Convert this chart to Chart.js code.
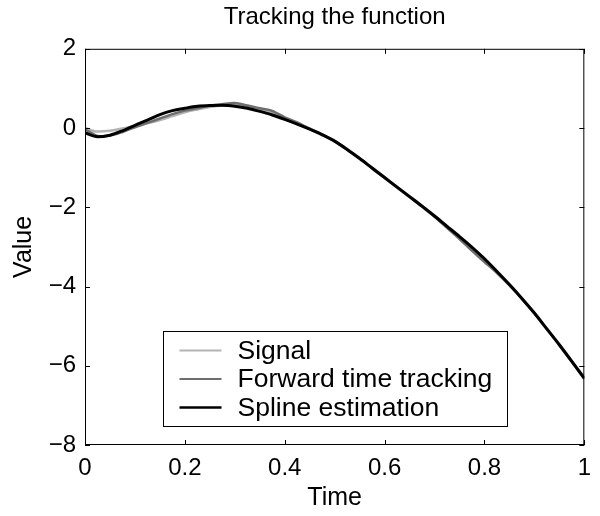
<!DOCTYPE html>
<html>
<head>
<meta charset="utf-8">
<title>Tracking the function</title>
<script src="https://cdn.jsdelivr.net/npm/chart.js@4.4.0/dist/chart.umd.min.js"></script>
<style>
  html, body { margin: 0; padding: 0; background: #fff; }
  #wrap { width: 600px; height: 516px; }
</style>
</head>
<body>
<div id="wrap"><canvas id="trackChart" width="600" height="516"></canvas></div>
<script>
// values
const timeValues = [0, 0.025, 0.05, 0.075, 0.1, 0.125, 0.15, 0.175, 0.2, 0.225,
    0.25, 0.275, 0.3, 0.325, 0.35, 0.375, 0.4, 0.425, 0.45, 0.475,
    0.5, 0.525, 0.55, 0.575, 0.6, 0.625, 0.65, 0.675, 0.7, 0.725,
    0.75, 0.775, 0.8, 0.825, 0.85, 0.875, 0.9, 0.925, 0.95, 0.975, 1];
const signalValues = [0.0, -0.09, -0.07, -0.01, 0.05, 0.12, 0.2, 0.3, 0.4, 0.47,
    0.53, 0.57, 0.58, 0.54, 0.46, 0.37, 0.25, 0.12, -0.01, -0.16,
    -0.33, -0.53, -0.76, -1.0, -1.24, -1.48, -1.72, -1.96, -2.21, -2.47,
    -2.73, -3.0, -3.29, -3.62, -3.95, -4.3, -4.67, -5.07, -5.48, -5.9, -6.34];
const forwardValues = [-0.03, -0.2, -0.19, -0.1, 0.02, 0.13, 0.24, 0.35, 0.44, 0.5,
    0.56, 0.6, 0.63, 0.57, 0.5, 0.43, 0.27, 0.14, -0.02, -0.16,
    -0.34, -0.55, -0.76, -1.02, -1.26, -1.5, -1.74, -1.99, -2.24, -2.52,
    -2.8, -3.1, -3.38, -3.66, -3.97, -4.31, -4.68, -5.08, -5.48, -5.9, -6.3];
const splineValues = [-0.12, -0.22, -0.18, -0.07, 0.07, 0.2, 0.34, 0.44, 0.5, 0.55,
    0.57, 0.575, 0.55, 0.5, 0.42, 0.33, 0.22, 0.1, -0.03, -0.17,
    -0.33, -0.54, -0.77, -1.01, -1.25, -1.49, -1.73, -1.97, -2.22, -2.48,
    -2.74, -3.01, -3.3, -3.62, -3.95, -4.3, -4.67, -5.07, -5.47, -5.89, -6.32];

const xTicks = [0, 0.2, 0.4, 0.6, 0.8, 1];
const yTicks = [-8, -6, -4, -2, 0, 2];
const seriesNames = ['Signal', 'Forward time tracking', 'Spline estimation'];
const seriesColors = ['#b4b4b4', '#6e6e6e', '#000000'];

const fontFamily = '"Liberation Sans", Arial, Helvetica, sans-serif';

function toPoints(values) {
    return values.map((v, i) => ({ x: timeValues[i], y: v }));
}

// box, inward ticks and the legend, matlab style
const frameAndLegend = {
    id: 'frameAndLegend',
    afterDatasetsDraw(chart) {
        const { ctx, chartArea: a, scales: { x, y } } = chart;
        ctx.save();
        ctx.strokeStyle = '#000';
        ctx.lineWidth = 1;
        ctx.strokeRect(a.left + 0.5, a.top + 0.5, a.right - a.left - 1, a.bottom - a.top - 1);

        const tick = 5;
        ctx.beginPath();
        xTicks.forEach(t => {
            const px = Math.round(x.getPixelForValue(t)) + 0.5;
            ctx.moveTo(px, a.bottom); ctx.lineTo(px, a.bottom - tick);
            ctx.moveTo(px, a.top); ctx.lineTo(px, a.top + tick);
        });
        yTicks.forEach(t => {
            const py = Math.round(y.getPixelForValue(t)) + 0.5;
            ctx.moveTo(a.left, py); ctx.lineTo(a.left + tick, py);
            ctx.moveTo(a.right, py); ctx.lineTo(a.right - tick, py);
        });
        ctx.stroke();

        // legend
        const boxW = 344, boxH = 95;
        const bx = Math.round((a.left + a.right) / 2 - boxW / 2) + 0.5;
        const by = Math.round(a.bottom - 114) + 0.5;
        ctx.fillStyle = '#fff';
        ctx.fillRect(bx, by, boxW, boxH);
        ctx.strokeRect(bx, by, boxW, boxH);
        ctx.font = '26.5px ' + fontFamily;
        ctx.textBaseline = 'middle';
        seriesNames.forEach((name, i) => {
            const ry = by + 19 + i * 28.5;
            ctx.strokeStyle = seriesColors[i];
            ctx.lineWidth = i === 2 ? 2.5 : 2;
            ctx.beginPath();
            ctx.moveTo(bx + 16, ry);
            ctx.lineTo(bx + 58, ry);
            ctx.stroke();
            ctx.fillStyle = '#000';
            ctx.fillText(name, bx + 74, ry + 1);
        });
        ctx.restore();
    }
};

const ctx = document.getElementById('trackChart').getContext('2d');
const chart = new Chart(ctx, {
    type: 'line',
    data: {
        datasets: [{
            label: seriesNames[0],
            data: toPoints(signalValues),
            borderColor: seriesColors[0],
            borderWidth: 2.5,
            pointRadius: 0,
            cubicInterpolationMode: 'monotone',
            order: 2
        }, {
            label: seriesNames[1],
            data: toPoints(forwardValues),
            borderColor: seriesColors[1],
            borderWidth: 2.5,
            pointRadius: 0,
            tension: 0.3,
            order: 1
        }, {
            label: seriesNames[2],
            data: toPoints(splineValues),
            borderColor: seriesColors[2],
            borderWidth: 3,
            pointRadius: 0,
            cubicInterpolationMode: 'monotone',
            order: 0
        }]
    },
    options: {
        responsive: false,
        animation: false,
        devicePixelRatio: 1,
        layout: { padding: { left: 0, right: 13, top: 0, bottom: 0 } },
        plugins: {
            legend: { display: false },
            tooltip: { enabled: false },
            title: {
                display: true,
                fullSize: false,
                text: 'Tracking the function',
                color: '#000',
                font: { family: fontFamily, size: 24, weight: 'normal' },
                padding: { top: 3, bottom: 17 }
            }
        },
        scales: {
            x: {
                type: 'linear',
                min: 0,
                max: 1,
                afterBuildTicks: scale => { scale.ticks = xTicks.map(v => ({ value: v })); },
                afterFit: scale => { scale.height = 71; },
                grid: { display: false, drawTicks: false },
                border: { display: false },
                ticks: {
                    color: '#000',
                    padding: 9,
                    maxRotation: 0,
                    font: { family: fontFamily, size: 24 },
                    callback: v => String(v)
                },
                title: {
                    display: true,
                    text: 'Time',
                    color: '#000',
                    font: { family: fontFamily, size: 25 },
                    padding: { top: 0, bottom: 3 }
                }
            },
            y: {
                min: -8,
                max: 2,
                afterBuildTicks: scale => { scale.ticks = yTicks.map(v => ({ value: v })); },
                afterFit: scale => { scale.width = 85; },
                grid: { display: false, drawTicks: false },
                border: { display: false },
                ticks: {
                    color: '#000',
                    padding: 9,
                    font: { family: fontFamily, size: 24 },
                    callback: v => String(v).replace('-', '\u2212')
                },
                title: {
                    display: true,
                    text: 'Value',
                    color: '#000',
                    font: { family: fontFamily, size: 25 },
                    padding: { top: 9, bottom: 0 }
                }
            }
        }
    },
    plugins: [frameAndLegend]
});
</script>
</body>
</html>
